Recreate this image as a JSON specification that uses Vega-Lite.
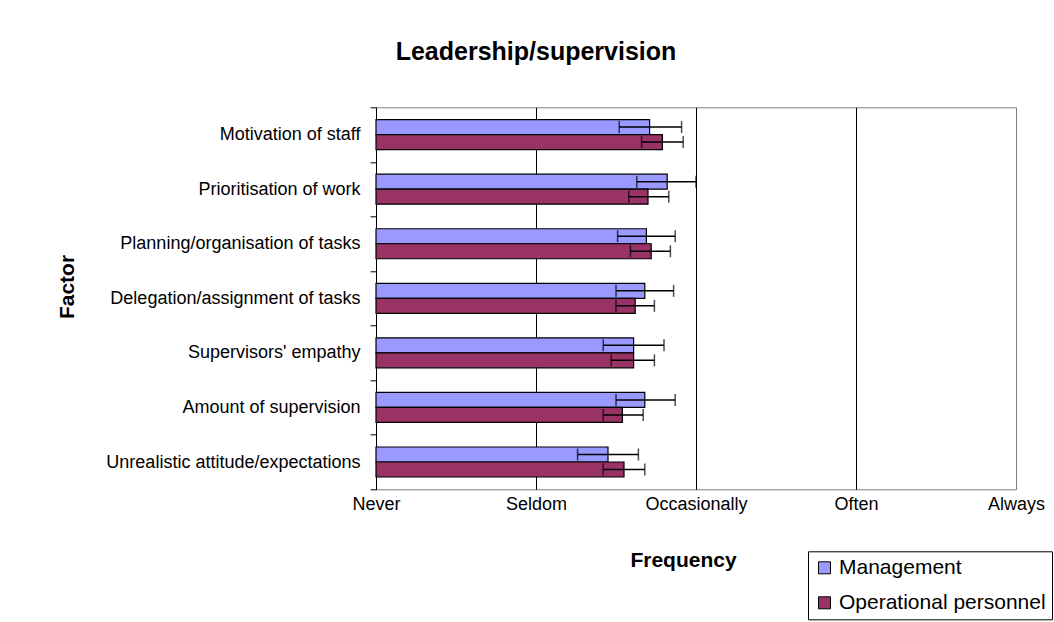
{
  "$schema": "https://vega.github.io/schema/vega-lite/v6.json",
  "width": 640,
  "height": 382,
  "autosize": {"type": "none"},
  "padding": {"left": 376, "top": 107.3, "right": 38, "bottom": 132.7},
  "background": "white",
  "title": {"text": "Leadership/supervision", "fontSize": 25, "fontWeight": "bold", "font": "Liberation Sans", "color": "black", "anchor": "middle", "frame": "group", "dx": -160, "baseline": "alphabetic", "offset": 13.6},
  "data": {"values": [
    {"factor": "Motivation of staff", "group": "Management", "value": 2.71, "lo": 2.52, "hi": 2.91},
    {"factor": "Motivation of staff", "group": "Operational personnel", "value": 2.79, "lo": 2.66, "hi": 2.92},
    {"factor": "Prioritisation of work", "group": "Management", "value": 2.82, "lo": 2.63, "hi": 3.0},
    {"factor": "Prioritisation of work", "group": "Operational personnel", "value": 2.70, "lo": 2.58, "hi": 2.83},
    {"factor": "Planning/organisation of tasks", "group": "Management", "value": 2.69, "lo": 2.51, "hi": 2.87},
    {"factor": "Planning/organisation of tasks", "group": "Operational personnel", "value": 2.72, "lo": 2.59, "hi": 2.84},
    {"factor": "Delegation/assignment of tasks", "group": "Management", "value": 2.68, "lo": 2.50, "hi": 2.86},
    {"factor": "Delegation/assignment of tasks", "group": "Operational personnel", "value": 2.62, "lo": 2.50, "hi": 2.74},
    {"factor": "Supervisors' empathy", "group": "Management", "value": 2.61, "lo": 2.42, "hi": 2.80},
    {"factor": "Supervisors' empathy", "group": "Operational personnel", "value": 2.61, "lo": 2.47, "hi": 2.74},
    {"factor": "Amount of supervision", "group": "Management", "value": 2.68, "lo": 2.50, "hi": 2.87},
    {"factor": "Amount of supervision", "group": "Operational personnel", "value": 2.54, "lo": 2.42, "hi": 2.67},
    {"factor": "Unrealistic attitude/expectations", "group": "Management", "value": 2.45, "lo": 2.26, "hi": 2.64},
    {"factor": "Unrealistic attitude/expectations", "group": "Operational personnel", "value": 2.55, "lo": 2.42, "hi": 2.68}
  ]},
  "encoding": {
    "y": {
      "field": "factor", "type": "nominal",
      "sort": ["Motivation of staff", "Prioritisation of work", "Planning/organisation of tasks", "Delegation/assignment of tasks", "Supervisors' empathy", "Amount of supervision", "Unrealistic attitude/expectations"],
      "scale": {"paddingInner": 0, "paddingOuter": 0},
      "axis": {
        "title": "Factor", "titleFontSize": 21, "titleFontWeight": "bold", "titleColor": "black",
        "titleX": -303, "titleY": 179.2, "titleAngle": -90, "titleAlign": "center", "titleBaseline": "alphabetic",
        "labelFontSize": 18, "labelColor": "black", "labelPadding": 10, "labelLimit": 400,
        "tickSize": 6, "tickColor": "black", "domainColor": "black", "tickBand": "extent", "grid": false
      }
    },
    "yOffset": {"field": "group", "type": "nominal", "sort": ["Management", "Operational personnel"], "scale": {"paddingInner": 0, "paddingOuter": 0.819}}
  },
  "layer": [
    {
      "mark": {"type": "bar", "stroke": "black", "strokeWidth": 1.2},
      "encoding": {
        "x": {
          "field": "value", "type": "quantitative",
          "scale": {"domain": [1, 5], "nice": false, "zero": false, "clamp": true},
          "axis": {
            "title": "Frequency", "values": [1, 2, 3, 4, 5],
            "labelExpr": "['','Never','Seldom','Occasionally','Often','Always'][datum.value]",
            "domain": false, "ticks": false, "grid": true,
            "gridColor": {"condition": {"test": "datum.value == 5", "value": "#808080"}, "value": "black"},
            "gridOpacity": 1,
            "labelFontSize": 18, "labelColor": "black", "labelPadding": 6, "labelFlush": false, "labelOverlap": false,
            "titleX": 307, "titleY": 77.4, "titleAlign": "center", "titleBaseline": "alphabetic",
            "titleFontSize": 21, "titleFontWeight": "bold", "titleColor": "black"
          }
        },
        "color": {
          "field": "group", "type": "nominal",
          "scale": {"domain": ["Management", "Operational personnel"], "range": ["#9999FF", "#993366"]},
          "legend": {
            "orient": "none", "legendX": 432, "legendY": 444, "title": null,
            "strokeColor": "black", "fillColor": "white", "padding": 6,
            "symbolType": "square", "symbolSize": 144, "symbolStrokeColor": "black", "symbolStrokeWidth": 1, "symbolOpacity": 1,
            "labelFontSize": 21, "labelColor": "black", "labelLimit": 400, "rowPadding": 13, "labelOffset": 4
          }
        }
      }
    },
    {
      "mark": {"type": "rule", "color": "black", "strokeWidth": 1.5},
      "encoding": {"x": {"field": "lo", "type": "quantitative"}, "x2": {"field": "hi"}}
    },
    {
      "mark": {"type": "tick", "color": "black", "thickness": 1.5, "size": 12, "orient": "vertical"},
      "encoding": {"x": {"field": "lo", "type": "quantitative"}}
    },
    {
      "mark": {"type": "tick", "color": "black", "thickness": 1.5, "size": 12, "orient": "vertical"},
      "encoding": {"x": {"field": "hi", "type": "quantitative"}}
    }
  ],
  "config": {"font": "Liberation Sans", "view": {"stroke": "#808080"}}
}
